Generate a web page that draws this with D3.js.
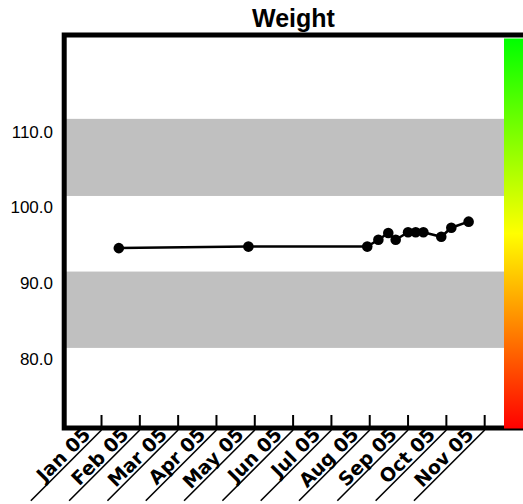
<!DOCTYPE html>
<html>
<head>
<meta charset="utf-8">
<script src="https://cdn.jsdelivr.net/npm/d3@7"></script>
<style>
  html, body { margin: 0; padding: 0; background: #fff; }
  svg { display: block; font-family: "Liberation Sans", Arial, sans-serif; }
</style>
</head>
<body>
<svg id="chart" width="523" height="504"></svg>
<script>
// ---- data ----
const title = "Weight";
const dates = ["2005-01-15","2005-04-26","2005-07-30","2005-08-08","2005-08-16","2005-08-22",
               "2005-09-01","2005-09-07","2005-09-13","2005-09-27","2005-10-05","2005-10-19"];
const weights = [94.6, 94.8, 94.8, 95.7, 96.6, 95.7, 96.7, 96.7, 96.7, 96.1, 97.3, 98.1];
const monthLabels = ["Jan 05","Feb 05","Mar 05","Apr 05","May 05","Jun 05","Jul 05","Aug 05","Sep 05","Oct 05","Nov 05"];
const yTicks = [80, 90, 100, 110];
const bandLow = [81.4, 101.5];
const bandHigh = [91.5, 111.7];
const gradientStops = ["#00ff00", "#ffff00", "#ff0000"];

// ---- helpers ----
const monthIndex = s => {
  const [yy, mm, dd] = s.split("-").map(Number);
  const dim = new Date(yy, mm, 0).getDate();
  return (yy - 2005) * 12 + (mm - 1) + (dd - 1) / dim;
};
const pts = dates.map((d, i) => ({ m: monthIndex(d), v: weights[i] }));

const svg = d3.select("#chart");
const frameL = 64.2, frameT = 35, frameB = 428, frameR = 523;

// month index -1 = Dec 04 ... 11 = Dec 05
const x = d3.scaleLinear().domain([-1, 11]).range([frameL - 1, 523]);
const y = d3.scaleLinear().domain([80, 110]).range([358.5, 131.7]);

// bands
svg.selectAll("rect.band").data(bandLow).join("rect")
  .attr("class", "band")
  .attr("x", frameL).attr("width", frameR - frameL)
  .attr("y", (d, i) => y(bandHigh[i]))
  .attr("height", (d, i) => y(d) - y(bandHigh[i]))
  .attr("fill", "#c0c0c0");

// gradient
const defs = svg.append("defs");
const lg = defs.append("linearGradient").attr("id", "grad")
  .attr("x1", 0).attr("y1", 0).attr("x2", 0).attr("y2", 1);
lg.selectAll("stop").data(gradientStops).join("stop")
  .attr("offset", (d, i) => i / (gradientStops.length - 1))
  .attr("stop-color", d => d);

// frame
svg.append("rect")
  .attr("x", frameL).attr("y", frameT)
  .attr("width", 530 - frameL).attr("height", frameB - frameT)
  .attr("fill", "none").attr("stroke", "#000").attr("stroke-width", 5);

svg.append("rect")
  .attr("x", 504).attr("y", 38.5).attr("width", 19).attr("height", 390)
  .attr("fill", "url(#grad)");

// x ticks
const monthIdx = monthLabels.map((d, i) => i);
svg.selectAll("line.tick").data(monthIdx).join("line")
  .attr("class", "tick")
  .attr("x1", d => x(d)).attr("x2", d => x(d))
  .attr("y1", 415).attr("y2", frameB)
  .attr("stroke", "#000").attr("stroke-width", 2);

const lab = svg.selectAll("g.xl").data(monthIdx).join("g")
  .attr("class", "xl")
  .attr("transform", d => `translate(${x(d)},${frameB + 2}) rotate(-45)`);
lab.append("line")
  .attr("x1", 0).attr("y1", 0).attr("x2", -100).attr("y2", 0)
  .attr("stroke", "#000").attr("stroke-width", 1.6);
lab.append("text")
  .attr("x", -11).attr("y", -3)
  .attr("text-anchor", "end")
  .attr("font-family", "'DejaVu Sans', sans-serif")
  .attr("font-size", 19).attr("font-weight", "bold")
  .text((d, i) => monthLabels[i]);

// y labels
svg.selectAll("text.yl").data(yTicks).join("text")
  .attr("class", "yl")
  .attr("x", 53).attr("y", d => y(d))
  .attr("dy", "0.36em")
  .attr("text-anchor", "end")
  .attr("font-size", 17)
  .text(d => d.toFixed(1));

// line + points
const line = d3.line().x(d => x(d.m)).y(d => y(d.v));
svg.append("path").datum(pts)
  .attr("d", line).attr("fill", "none")
  .attr("stroke", "#000").attr("stroke-width", 2.5);
svg.selectAll("circle.pt").data(pts).join("circle")
  .attr("class", "pt")
  .attr("cx", d => x(d.m)).attr("cy", d => y(d.v))
  .attr("r", 5.3).attr("fill", "#000");

// title
svg.append("text")
  .attr("x", 293.5).attr("y", 27)
  .attr("text-anchor", "middle")
  .attr("font-size", 25).attr("font-weight", "bold")
  .text(title);
</script>
</body>
</html>
